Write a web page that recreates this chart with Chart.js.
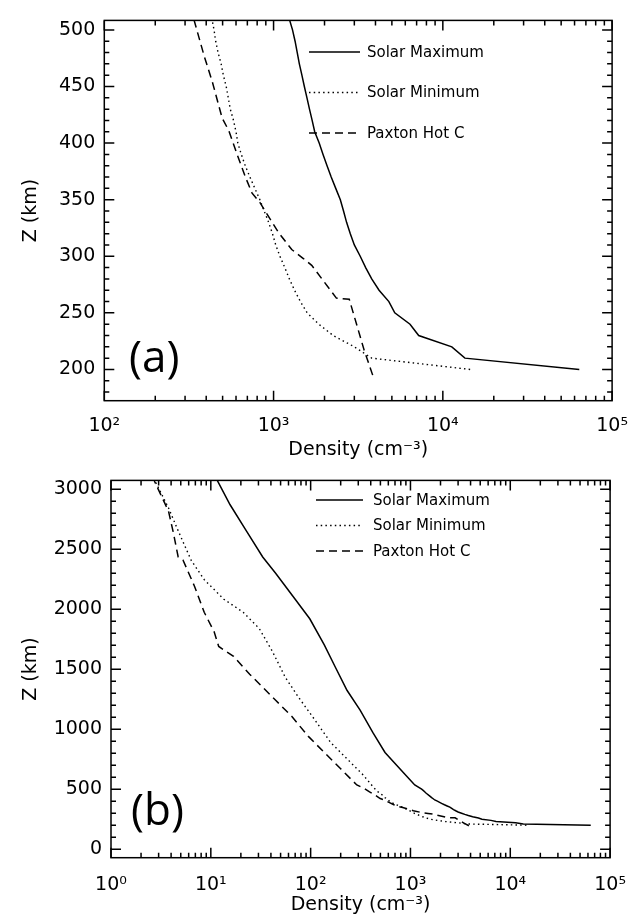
<!DOCTYPE html>
<html>
<head>
<meta charset="utf-8">
<script src="https://cdn.jsdelivr.net/npm/chart.js@4.4.1/dist/chart.umd.min.js"></script>
<style>
  html, body { margin: 0; padding: 0; background: #fff; }
  canvas { display: block; }
</style>
</head>
<body>
<canvas id="chartA" width="642" height="460"></canvas>
<canvas id="chartB" width="642" height="460"></canvas>
<script>
// altitude (km) / density (cm^-3) profiles
const solarMaxAlt = [200, 210, 220, 230, 240, 250, 260, 270, 280, 290, 300, 310, 320, 330, 340, 350, 360, 370, 380, 390,
  400, 410, 420, 430, 440, 450, 460, 470, 480, 490, 500, 535, 600, 700, 806, 969, 1159, 1322, 1512, 1702,
  1920, 2083, 2299, 2435, 2653, 2870, 3073, 3150];
const solarMaxDen = [64000, 13500, 11300, 7200, 6400, 5200, 4800, 4200, 3800, 3500, 3250, 3000, 2840, 2700, 2590, 2480, 2330, 2190, 2070, 1960,
  1860, 1750, 1690, 1630, 1575, 1520, 1470, 1420, 1380, 1340, 1294, 1104, 937, 727, 556, 422, 313, 232, 178, 137,
  98, 70, 44.6, 33.1, 22.7, 15.6, 11.6, 10.2];

const solarMinAlt = [200, 210, 220, 230, 240, 250, 260, 270, 280, 290, 300, 310, 320, 330, 340, 350, 360, 370, 380, 390,
  400, 410, 420, 430, 440, 450, 460, 470, 480, 490, 500, 510, 617, 752, 888, 1078, 1268, 1431, 1648, 1838,
  1974, 2083, 2246, 2408, 2653, 2843, 3060, 3150];
const solarMinDen = [14500, 3800, 3000, 2250, 1850, 1580, 1440, 1330, 1240, 1165, 1090, 1030, 985, 935, 880, 830, 775, 725, 680, 645,
  615, 600, 580, 555, 540, 525, 505, 490, 470, 455, 445, 432, 337, 232, 159, 110, 75.3, 55.8, 41.4, 30.6,
  21.1, 13.5, 8.59, 6.35, 4.71, 3.77, 2.79, 2.5];

const paxtonAlt = [195, 217, 262, 263, 292, 298, 306, 321, 335, 347, 356, 370, 390, 411, 422, 454, 477, 508, 535, 670,
  806, 942, 1105, 1241, 1350, 1458, 1607, 1689, 1811, 1974, 2191, 2408, 2435, 2639, 2816, 3060, 3150];
const paxtonDen = [3850, 3430, 2800, 2350, 1680, 1500, 1280, 1070, 935, 835, 745, 682, 609, 544, 497, 435, 389, 340, 290, 200,
  137, 94.3, 64.9, 44.6, 33.1, 24.5, 16.9, 12.0, 10.8, 8.59, 6.86, 5.27, 4.71, 4.21, 3.77, 2.75, 2.5];

const seriesNames = ['Solar Maximum', 'Solar Minimum', 'Paxton Hot C'];

// axis ticks
const xTicksA = [1e2, 1e3, 1e4, 1e5];
const yTicksA = [200, 250, 300, 350, 400, 450, 500];
const xTicksB = [1e0, 1e1, 1e2, 1e3, 1e4, 1e5];
const yTicksB = [0, 500, 1000, 1500, 2000, 2500, 3000];

const FONT = 'DejaVu Sans';
const SUP = {'0': '\u2070', '1': '\u00b9', '2': '\u00b2', '3': '\u00b3', '4': '\u2074', '5': '\u2075'};
const powLabel = v => '10' + String(Math.round(Math.log10(v))).split('').map(c => SUP[c]).join('');

const toPoints = (alt, den) => alt.map((z, i) => ({x: den[i], y: z}));

function makeDatasets() {
  return [
    {label: seriesNames[0], data: toPoints(solarMaxAlt, solarMaxDen), borderDash: [], borderWidth: 1.5},
    {label: seriesNames[1], data: toPoints(solarMinAlt, solarMinDen), borderDash: [1.5, 3.2], borderWidth: 1.4},
    {label: seriesNames[2], data: toPoints(paxtonAlt, paxtonDen), borderDash: [8, 5], borderWidth: 1.5}
  ].map(d => Object.assign(d, {showLine: true, pointRadius: 0, borderColor: '#000', fill: false, tension: 0}));
}

// box with inward ticks on all four sides
const framePlugin = {
  id: 'frame',
  afterDatasetsDraw(chart, args, o) {
    const {ctx, chartArea: a, scales: {x, y}} = chart;
    ctx.save();
    ctx.strokeStyle = '#000';
    ctx.lineWidth = 1.5;
    ctx.setLineDash([]);
    ctx.strokeRect(a.left, a.top, a.right - a.left, a.bottom - a.top);
    ctx.beginPath();
    const xt = (v, len) => {
      const p = x.getPixelForValue(v);
      ctx.moveTo(p, a.bottom); ctx.lineTo(p, a.bottom - len);
      ctx.moveTo(p, a.top); ctx.lineTo(p, a.top + len);
    };
    const yt = (v, len) => {
      const p = y.getPixelForValue(v);
      ctx.moveTo(a.left, p); ctx.lineTo(a.left + len, p);
      ctx.moveTo(a.right, p); ctx.lineTo(a.right - len, p);
    };
    o.xMajor.forEach(v => xt(v, 10));
    for (let d = Math.log10(x.min); d < Math.log10(x.max); d++) {
      for (let k = 2; k < 10; k++) xt(k * Math.pow(10, d), 5);
    }
    o.yMajor.forEach(v => yt(v, 10));
    for (let v = Math.ceil(y.min / o.yMinor) * o.yMinor; v <= y.max; v += o.yMinor) {
      if (!o.yMajor.includes(v)) yt(v, 5);
    }
    ctx.stroke();
    ctx.restore();
  }
};

// line-sample legend + panel tag
const keyPlugin = {
  id: 'key',
  afterDraw(chart, args, o) {
    const ctx = chart.ctx;
    ctx.save();
    ctx.strokeStyle = '#000';
    ctx.fillStyle = '#000';
    ctx.font = '15px "' + FONT + '"';
    ctx.textBaseline = 'middle';
    chart.data.datasets.forEach((ds, i) => {
      const yy = o.y + i * o.dy;
      ctx.lineWidth = ds.borderWidth;
      ctx.setLineDash(ds.borderDash);
      ctx.beginPath();
      ctx.moveTo(o.x1, yy); ctx.lineTo(o.x2, yy);
      ctx.stroke();
      ctx.fillText(ds.label, o.x2 + o.gap, yy + 1);
    });
    ctx.font = '44px "Open Sans"';
    ctx.textBaseline = 'alphabetic';
    ctx.fillText(o.tag, o.tagX, o.tagY);
    ctx.restore();
  }
};

function makeChart(id, cfg) {
  return new Chart(document.getElementById(id), {
    type: 'scatter',
    data: {datasets: makeDatasets()},
    options: {
      responsive: false,
      animation: false,
      devicePixelRatio: 1,
      layout: {padding: {left: 0, right: cfg.padRight, top: cfg.padTop, bottom: 0}},
      plugins: {
        legend: {display: false},
        tooltip: {enabled: false},
        frame: {xMajor: cfg.xTicks, yMajor: cfg.yTicks, yMinor: cfg.yMinor},
        key: cfg.key
      },
      scales: {
        x: {
          type: 'logarithmic',
          min: cfg.xTicks[0],
          max: cfg.xTicks[cfg.xTicks.length - 1],
          afterFit: s => { s.height = cfg.xHeight; },
          afterBuildTicks: s => { s.ticks = cfg.xTicks.map(v => ({value: v, major: true})); },
          grid: {display: false, drawTicks: false},
          border: {display: false},
          ticks: {
            autoSkip: false, maxRotation: 0, padding: cfg.xLabelPad, color: '#000',
            font: {family: FONT, size: 19},
            callback: v => powLabel(v)
          },
          title: {
            display: true, text: 'Density (cm\u207b\u00b3)', color: '#000',
            font: {family: FONT, size: 19, lineHeight: 1},
            padding: {top: 0, bottom: cfg.xTitlePad}
          }
        },
        y: {
          type: 'linear',
          min: cfg.yMin,
          max: cfg.yMax,
          afterFit: s => { s.width = cfg.yWidth; },
          afterBuildTicks: s => { s.ticks = cfg.yTicks.map(v => ({value: v})); },
          grid: {display: false, drawTicks: false},
          border: {display: false},
          ticks: {
            autoSkip: false, padding: 9, color: '#000', font: {family: FONT, size: 19},
            callback: v => String(v)
          },
          title: {
            display: true, text: 'Z (km)', color: '#000',
            font: {family: FONT, size: 19, lineHeight: 1.2},
            padding: {top: 20, bottom: 0}
          }
        }
      }
    },
    plugins: [framePlugin, keyPlugin]
  });
}

makeChart('chartA', {
  xTicks: xTicksA, yTicks: yTicksA, yMinor: 10, yMin: 172.4, yMax: 508.4,
  padRight: 25.3, padTop: 14.3, yWidth: 104.3, xHeight: 59.3, xLabelPad: 14, xTitlePad: 0,
  key: {x1: 309, x2: 360, gap: 7, y: 52, dy: 40.5, tag: '(a)', tagX: 129, tagY: 372}
});

makeChart('chartB', {
  xTicks: xTicksB, yTicks: yTicksB, yMinor: 100, yMin: -71, yMax: 3073,
  padRight: 18.7, padTop: 11.7, yWidth: 111, xHeight: 62.3, xLabelPad: 16, xTitlePad: 5.5,
  key: {x1: 316, x2: 363, gap: 10, y: 40, dy: 25.5, tag: '(b)', tagX: 131, tagY: 365}
});
</script>
</body>
</html>
